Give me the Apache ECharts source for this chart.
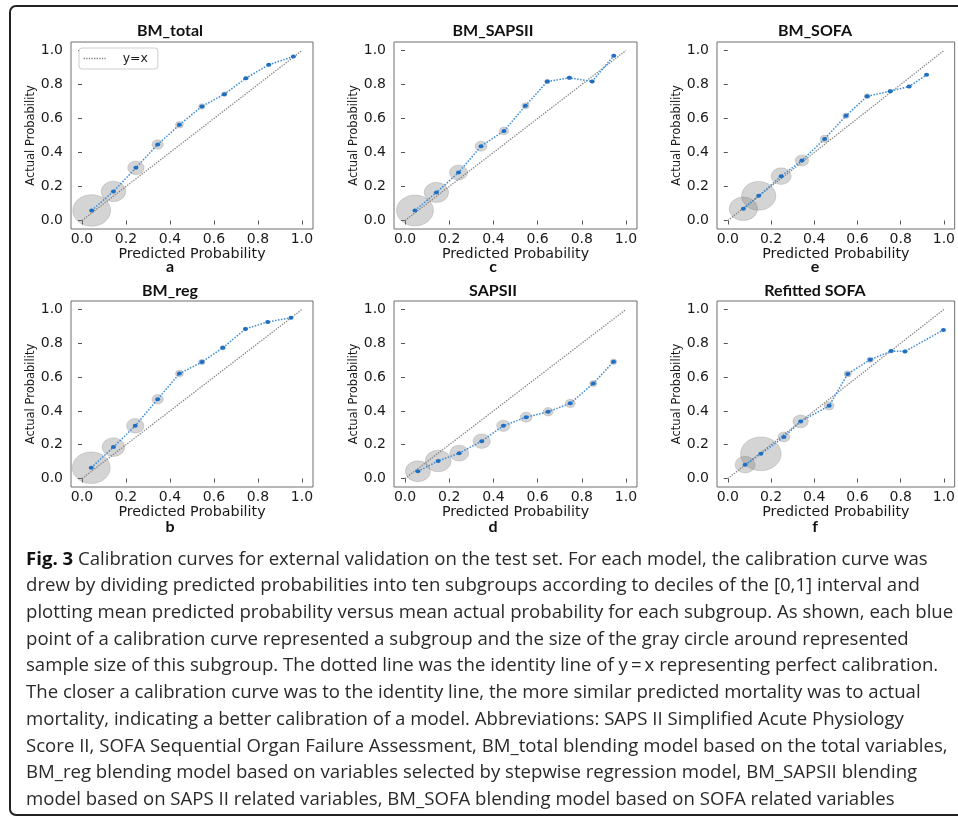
<!DOCTYPE html>
<html>
<head>
<meta charset="utf-8">
<script src="https://cdn.jsdelivr.net/npm/echarts@6/dist/echarts.min.js"></script>
<style>
  html, body { margin: 0; padding: 0; background: #fff; }
  #main { width: 958px; height: 818px; }
</style>
</head>
<body>
<div id="main"></div>
<script>
// ---- data ----
var panelNames = ['BM_total', 'BM_reg', 'BM_SAPSII', 'SAPSII', 'BM_SOFA', 'Refitted SOFA'];
var panelLetters = ['a', 'b', 'c', 'd', 'e', 'f'];
var tickValues = [0, 0.2, 0.4, 0.6, 0.8, 1.0];
var identityLine = [[0, 0], [1, 1]];

// mean predicted probability per decile subgroup
var predBMtotal = [0.044, 0.143, 0.245, 0.344, 0.443, 0.545, 0.647, 0.745, 0.849, 0.961];
var predBMreg   = [0.042, 0.143, 0.242, 0.344, 0.443, 0.545, 0.640, 0.743, 0.844, 0.950];
var predBMsaps  = [0.045, 0.142, 0.242, 0.344, 0.448, 0.545, 0.644, 0.744, 0.847, 0.945];
var predSAPSII  = [0.058, 0.150, 0.245, 0.347, 0.445, 0.548, 0.648, 0.748, 0.852, 0.944];
var predBMsofa  = [0.072, 0.143, 0.247, 0.343, 0.448, 0.547, 0.645, 0.752, 0.839, 0.920];
var predSOFA    = [0.080, 0.153, 0.260, 0.337, 0.469, 0.555, 0.659, 0.756, 0.820, 0.998];

// mean actual probability per subgroup
var actBMtotal = [0.059, 0.171, 0.310, 0.447, 0.563, 0.671, 0.743, 0.837, 0.916, 0.965];
var actBMreg   = [0.064, 0.186, 0.312, 0.469, 0.621, 0.689, 0.773, 0.885, 0.926, 0.951];
var actBMsaps  = [0.059, 0.165, 0.282, 0.437, 0.527, 0.675, 0.818, 0.839, 0.818, 0.969];
var actSAPSII  = [0.043, 0.104, 0.150, 0.221, 0.312, 0.363, 0.395, 0.445, 0.562, 0.691];
var actBMsofa  = [0.069, 0.145, 0.261, 0.353, 0.480, 0.616, 0.731, 0.761, 0.788, 0.857];
var actSOFA    = [0.082, 0.146, 0.246, 0.338, 0.430, 0.619, 0.703, 0.754, 0.752, 0.879];

// subgroup sample sizes (gray circles)
var nBMtotal = [1000, 420, 190, 90, 44, 30, 20, 13, 9, 6];
var nBMreg   = [1000, 355, 210, 90, 44, 30, 20, 13, 9, 6];
var nBMsaps  = [950, 413, 225, 100, 61, 38, 20, 15, 11, 8];
var nSAPSII  = [434, 469, 251, 210, 125, 100, 69, 69, 38, 30];
var nBMsofa  = [560, 822, 278, 125, 51, 30, 25, 15, 11, 6];
var nSOFA    = [278, 1145, 100, 165, 69, 38, 30, 15, 11, 6];

var captionLines = [
  '{b|Fig. 3} Calibration curves for external validation on the test set. For each model, the calibration curve was',
  'drew by dividing predicted probabilities into ten subgroups according to deciles of the [0,1] interval and',
  'plotting mean predicted probability versus mean actual probability for each subgroup. As shown, each blue',
  'point of a calibration curve represented a subgroup and the size of the gray circle around represented',
  'sample size of this subgroup. The dotted line was the identity line of y\u2009=\u2009x representing perfect calibration.',
  'The closer a calibration curve was to the identity line, the more similar predicted mortality was to actual',
  'mortality, indicating a better calibration of a model. Abbreviations: SAPS II Simplified Acute Physiology',
  'Score II, SOFA Sequential Organ Failure Assessment, BM_total blending model based on the total variables,',
  'BM_reg blending model based on variables selected by stepwise regression model, BM_SAPSII blending',
  'model based on SAPS II related variables, BM_SOFA blending model based on SOFA related variables'
];

var preds = [predBMtotal, predBMreg, predBMsaps, predSAPSII, predBMsofa, predSOFA];
var acts = [actBMtotal, actBMreg, actBMsaps, actSAPSII, actBMsofa, actSOFA];
var counts = [nBMtotal, nBMreg, nBMsaps, nSAPSII, nBMsofa, nSOFA];

// ---- layout ----
var colLeft = [71, 394, 717];
var colWidth = [242, 243, 244];
var colCenter = [170, 493, 815];
var rowTop = [42, 301];
var rowHeight = [187, 186];
var titleY = [31, 291];
var letterY = [267, 527];

var tickFont = 'DejaVu Sans';
var grids = [], xAxes = [], yAxes = [], series = [], graphics = [];

for (var i = 0; i < 6; i++) {
  var col = Math.floor(i / 2), row = i % 2;
  grids.push({
    left: colLeft[col], top: rowTop[row], width: colWidth[col], height: rowHeight[row],
    show: true, borderColor: '#6e6e6e', borderWidth: 1, backgroundColor: 'transparent'
  });
  xAxes.push({
    type: 'value', gridIndex: i, min: -0.05, max: 1.05,
    splitLine: { show: false },
    axisLine: { show: false },
    axisTick: { show: true, length: 4, lineStyle: { color: '#555' }, customValues: tickValues },
    axisLabel: {
      customValues: tickValues, margin: 3, color: '#1a1a1a', fontFamily: tickFont, fontSize: 14,
      formatter: function (v) { return v.toFixed(1); }
    },
    name: 'Predicted Probability', nameLocation: 'middle', nameGap: 13,
    nameTextStyle: { color: '#1a1a1a', fontFamily: tickFont, fontSize: 14.3 }
  });
  yAxes.push({
    type: 'value', gridIndex: i, min: -0.05, max: 1.05,
    splitLine: { show: false },
    axisLine: { show: false },
    axisTick: { show: true, length: 4, lineStyle: { color: '#555' }, customValues: tickValues },
    axisLabel: {
      customValues: tickValues, margin: 8, color: '#1a1a1a', fontFamily: tickFont, fontSize: 14,
      formatter: function (v) { return v.toFixed(1); }
    },
    name: 'Actual Probability', nameLocation: 'middle', nameGap: 32,
    nameTextStyle: { color: '#1a1a1a', fontFamily: tickFont, fontSize: 11.5 }
  });

  var pts = [], bubbles = [];
  for (var k = 0; k < preds[i].length; k++) {
    pts.push([preds[i][k], acts[i][k]]);
    bubbles.push([preds[i][k], acts[i][k], counts[i][k]]);
  }

  series.push({
    name: 'y=x', type: 'line', xAxisIndex: i, yAxisIndex: i,
    data: identityLine, symbol: 'none', silent: true,
    itemStyle: { color: '#808080' },
    lineStyle: { color: '#808080', width: 1.3, type: 'dotted' }
  });
  series.push({
    name: 'subgroup size', type: 'scatter', xAxisIndex: i, yAxisIndex: i,
    data: bubbles, silent: true,
    symbolSize: function (val) {
      var r = 0.6 * Math.sqrt(val[2]);
      return [2 * r, 2 * r / 1.2];
    },
    itemStyle: { color: 'rgba(120,120,120,0.4)', borderColor: 'rgba(90,90,90,0.3)', borderWidth: 0.8 }
  });
  series.push({
    name: panelNames[i], type: 'line', xAxisIndex: i, yAxisIndex: i,
    data: pts, symbol: 'circle', symbolSize: [5, 4], silent: true,
    lineStyle: { color: '#3a8ad6', width: 1.5, type: 'dotted' },
    itemStyle: { color: '#1f6fc4' }
  });

  graphics.push({
    type: 'text', style: {
      x: colCenter[col], y: titleY[row], text: panelNames[i], align: 'center', verticalAlign: 'middle',
      font: 'bold 16px Lato', fill: '#111'
    }
  });
  graphics.push({
    type: 'text', style: {
      x: colCenter[col], y: letterY[row], text: panelLetters[i], align: 'center', verticalAlign: 'middle',
      font: 'bold 16px Lato', fill: '#111'
    }
  });
}

graphics.push({
  type: 'rect', shape: { x: 10, y: 6, width: 1000, height: 809, r: 6 },
  style: { fill: 'none', stroke: '#222', lineWidth: 2 }, silent: true
});
graphics.push({
  type: 'text', style: {
    x: 26, y: 546, text: captionLines.join('\n'), align: 'left', verticalAlign: 'top',
    fontFamily: 'Open Sans', fontSize: 18.6, lineHeight: 26.7, fill: '#2a2a2a',
    rich: { b: { fontFamily: 'Open Sans', fontSize: 18.6, fontWeight: 'bold', lineHeight: 26.7, fill: '#111' } }
  }
});

var myChart = echarts.init(document.getElementById('main'));
var option = {
  backgroundColor: '#fff',
  animation: false,
  legend: {
    data: [{ name: 'y=x' }], left: 79, top: 48,
    itemWidth: 22, itemHeight: 10, padding: [4, 10, 4, 4],
    backgroundColor: '#fff', borderColor: '#cfcfcf', borderWidth: 1, borderRadius: 3,
    itemStyle: { opacity: 0 },
    lineStyle: { color: '#808080', type: 'dotted', width: 1.3 },
    textStyle: { fontFamily: tickFont, fontSize: 12.5, color: '#1a1a1a', padding: [0, 0, 0, 12] }
  },
  grid: grids,
  xAxis: xAxes,
  yAxis: yAxes,
  series: series,
  graphic: graphics
};
myChart.setOption(option);
</script>
</body>
</html>
